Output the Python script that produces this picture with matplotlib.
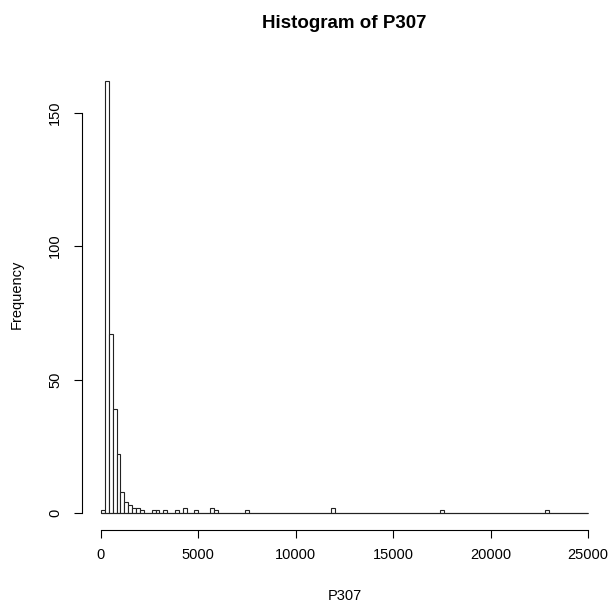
import matplotlib.pyplot as plt
import matplotlib as mpl
import numpy as np

mpl.rcParams.update({
    'font.family': ['Liberation Sans', 'DejaVu Sans'],
    'font.size': 10.5,
})

# histogram data: breaks every 200 from 0 to 25000, only non-empty bins listed
breaks = np.arange(0, 25001, 200)
bin_index = [0, 1, 2, 3, 4, 5, 6, 7, 8, 9, 10, 13, 14, 16, 19, 21, 24, 28, 29, 37, 59, 87, 114]
bin_count = [1, 162, 67, 39, 22, 8, 4, 3, 2, 2, 1, 1, 1, 1, 1, 2, 1, 2, 1, 1, 2, 1, 1]

x_ticks = [0, 5000, 10000, 15000, 20000, 25000]
y_ticks = [0, 50, 100, 150]

counts = np.zeros(len(breaks) - 1)
counts[bin_index] = bin_count

W, H = 609, 603
fig = plt.figure(figsize=(W / 100, H / 100), dpi=100)
# plot region in pixels (R style, 4% padding on the data range)
left, right, top, bottom = 81.5, 607.5, 63.3, 530.3
ax = fig.add_axes([left / W, 1 - bottom / H, (right - left) / W, (bottom - top) / H])

ax.bar(breaks[:-1], counts, width=200, align='edge',
       facecolor='white', edgecolor='#222222', linewidth=0.8)
# empty bins collapse to a flat line on the baseline, like R's hist()
ax.hlines(0, breaks[0], breaks[-1], color='#222222', linewidth=0.8)

ax.set_xlim(-1000, 26000)
ax.set_ylim(-6.48, 168.48)
for s in ['top', 'right']:
    ax.spines[s].set_visible(False)
ax.spines['bottom'].set_bounds(0, 25000)
ax.spines['left'].set_bounds(0, 150)
for s in ['bottom', 'left']:
    ax.spines[s].set_linewidth(0.8)

ax.set_xticks(x_ticks)
ax.set_yticks(y_ticks)
ax.tick_params(direction='out', length=6, width=0.8, colors='black')
ax.tick_params(axis='x', pad=6.5)
ax.tick_params(axis='y', pad=8, labelrotation=90)
plt.setp(ax.get_yticklabels(), va='center')

fig.text(344.5 / W, 1 - 24 / H, 'Histogram of P307', ha='center', va='center',
         fontsize=13.5, fontweight='bold')
fig.text(344.5 / W, 1 - 596 / H, 'P307', ha='center', va='center')
fig.text(17 / W, 1 - 294 / H, 'Frequency', ha='center', va='center', rotation=90)

plt.savefig('out.png', dpi=100)
